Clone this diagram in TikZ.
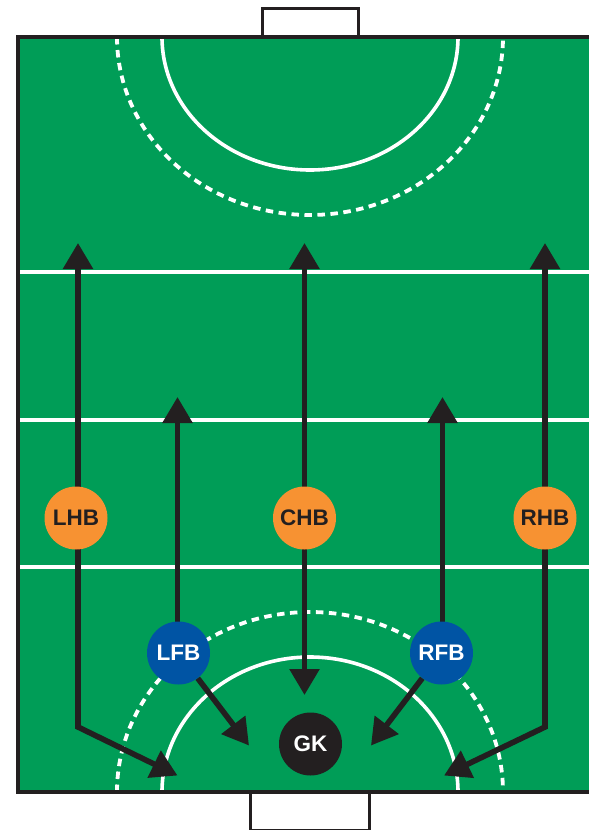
\documentclass[tikz,border=0pt]{standalone}
\usepackage{fontspec}
\setmainfont{Liberation Sans}
\usetikzlibrary{arrows.meta}
\definecolor{pitch}{HTML}{009D57}
\definecolor{ink}{HTML}{231F20}
\definecolor{halforange}{HTML}{F79232}
\definecolor{backblue}{HTML}{0054A4}
\pgfdeclarelayer{pitchlayer}
\pgfdeclarelayer{runlayer}
\pgfsetlayers{pitchlayer,runlayer,main}
\tikzset{
  goalframe/.style={draw=ink,line width=3pt,fill=white},
  border/.style={draw=ink,line width=4pt,line join=miter},
  fieldline/.style={draw=white,line width=3.6pt},
  dashline/.style={draw=white,line width=3.8pt,dash pattern=on 7.5pt off 5.5pt},
  run/.style={draw=ink,line width=5.6pt,line join=miter,-{Triangle[length=26pt,width=29pt]}},
  player/.style={circle,minimum size=63pt,inner sep=0pt,font=\fontsize{22.5}{22.5}\selectfont\bfseries},
  half/.style={player,fill=halforange,text=ink},
  back/.style={player,fill=backblue,text=white},
  keeper/.style={player,fill=ink,text=white}
}
\begin{document}
\begin{tikzpicture}[x=1pt,y=-1pt]
\useasboundingbox (0,0) rectangle (589,830);
% players
\node[half] (lhb) at (76,518) {LHB};
\node[half] (chb) at (304.5,518) {CHB};
\node[half] (rhb) at (545,518) {RHB};
\node[back] (lfb) at (178.5,653) {LFB};
\node[back] (rfb) at (441.5,653) {RFB};
\node[keeper] (gk) at (310.5,744) {GK};
% run ends
\coordinate (lhbup) at (78,243);
\coordinate (chbup) at (304.5,243);
\coordinate (rhbup) at (545,243);
\coordinate (lfbup) at (177.5,397);
\coordinate (rfbup) at (442.5,397);
\coordinate (chbdown) at (304.5,695);
\coordinate (lelbow) at (78,727);
\coordinate (relbow) at (545,727);
\coordinate (ltip) at (177.5,775.5);
\coordinate (rtip) at (444,775.5);
\coordinate (lfbtip) at (249,745.5);
\coordinate (rfbtip) at (371,745.5);
\begin{pgfonlayer}{pitchlayer}
\fill[white] (0,0) rectangle (589,830);
\draw[goalframe] (262,37) -- (262,8.5) -- (358,8.5) -- (358,37);
\draw[goalframe] (250.5,792) -- (250.5,830) -- (369.5,830) -- (369.5,792);
\fill[pitch] (17.5,37) rectangle (589,792);
\begin{scope}
\clip (17.5,37) rectangle (589,792);
\draw[fieldline] (20,272) -- (589,272);
\draw[fieldline] (20,420) -- (589,420);
\draw[fieldline] (20,567) -- (589,567);
\draw[fieldline] (162,37) arc[start angle=180,end angle=0,x radius=148,y radius=133];
\draw[dashline] (117,37) arc[start angle=180,end angle=0,x radius=193,y radius=178];
\draw[fieldline] (162,792) arc[start angle=180,end angle=360,x radius=148,y radius=135];
\draw[dashline] (117,792) arc[start angle=180,end angle=360,x radius=193,y radius=180];
\end{scope}
\draw[border] (589,37) -- (17.5,37) -- (17.5,792) -- (589,792);
\end{pgfonlayer}
\begin{pgfonlayer}{runlayer}
\draw[run] (lhbup |- lhb.center) -- (lhbup);
\draw[run] (chb.center) -- (chbup);
\draw[run] (rhb.center) -- (rhbup);
\draw[run] (lfbup |- lfb.center) -- (lfbup);
\draw[run] (rfbup |- rfb.center) -- (rfbup);
\draw[run] (chb.center) -- (chbdown);
\draw[run] (lelbow |- lhb.center) -- (lelbow) -- (ltip);
\draw[run] (rhb.center) -- (relbow) -- (rtip);
\draw[run] (lfb) -- (lfbtip);
\draw[run] (rfb) -- (rfbtip);
\end{pgfonlayer}
\end{tikzpicture}
\end{document}
